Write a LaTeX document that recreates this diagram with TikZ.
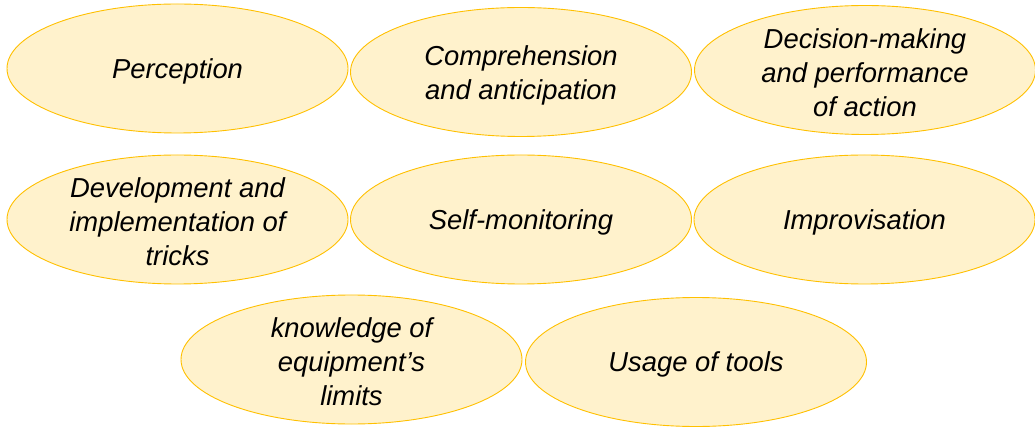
\documentclass[tikz,border=0pt]{standalone}
\usepackage{fontspec}
\setmainfont{Liberation Sans}
\usetikzlibrary{shapes.geometric}
\definecolor{efill}{HTML}{FFF2CC}
\definecolor{eline}{HTML}{FFC000}
\begin{document}
\begin{tikzpicture}[x=1pt,y=-1pt,
  oval/.style={ellipse, draw=eline, fill=efill, line width=0.9pt,
    minimum width=341pt, minimum height=129pt, inner sep=0pt},
  txt/.style={align=center, inner sep=0pt, text=black,
    font=\fontsize{27.4}{34}\selectfont\itshape}]
\useasboundingbox (0,0) rectangle (1035,427);
\node[oval] (perc) at (177.5,68.5) {};
\node[oval] (comp) at (521,72) {};
\node[oval] (deci) at (865,70) {};
\node[oval] (devl) at (177.5,219.5) {};
\node[oval] (self) at (521,219.5) {};
\node[oval] (impr) at (864.5,219.5) {};
\node[oval] (know) at (351.5,359.5) {};
\node[oval] (tool) at (696,362) {};
\node[txt] (perct) at ([yshift=-2.5pt]perc.center) {Perception};
\node[txt] (compt) at ([yshift=-3.5pt]comp.center) {Comprehension\\and anticipation};
\node[txt] (decit) at ([yshift=-2.5pt]deci.center) {Decision-making\\and performance\\of action};
\node[txt] (devlt) at ([yshift=-2.5pt]devl.center) {Development and\\implementation of\\tricks};
\node[txt] (selft) at ([yshift=-2.5pt]self.center) {Self-monitoring};
\node[txt] (imprt) at ([yshift=-2.5pt]impr.center) {Improvisation};
\node[txt] (knowt) at ([yshift=-2.5pt]know.center) {knowledge of\\equipment’s\\limits};
\node[txt] (toolt) at ([yshift=-2.5pt]tool.center) {Usage of tools};
\end{tikzpicture}
\end{document}
